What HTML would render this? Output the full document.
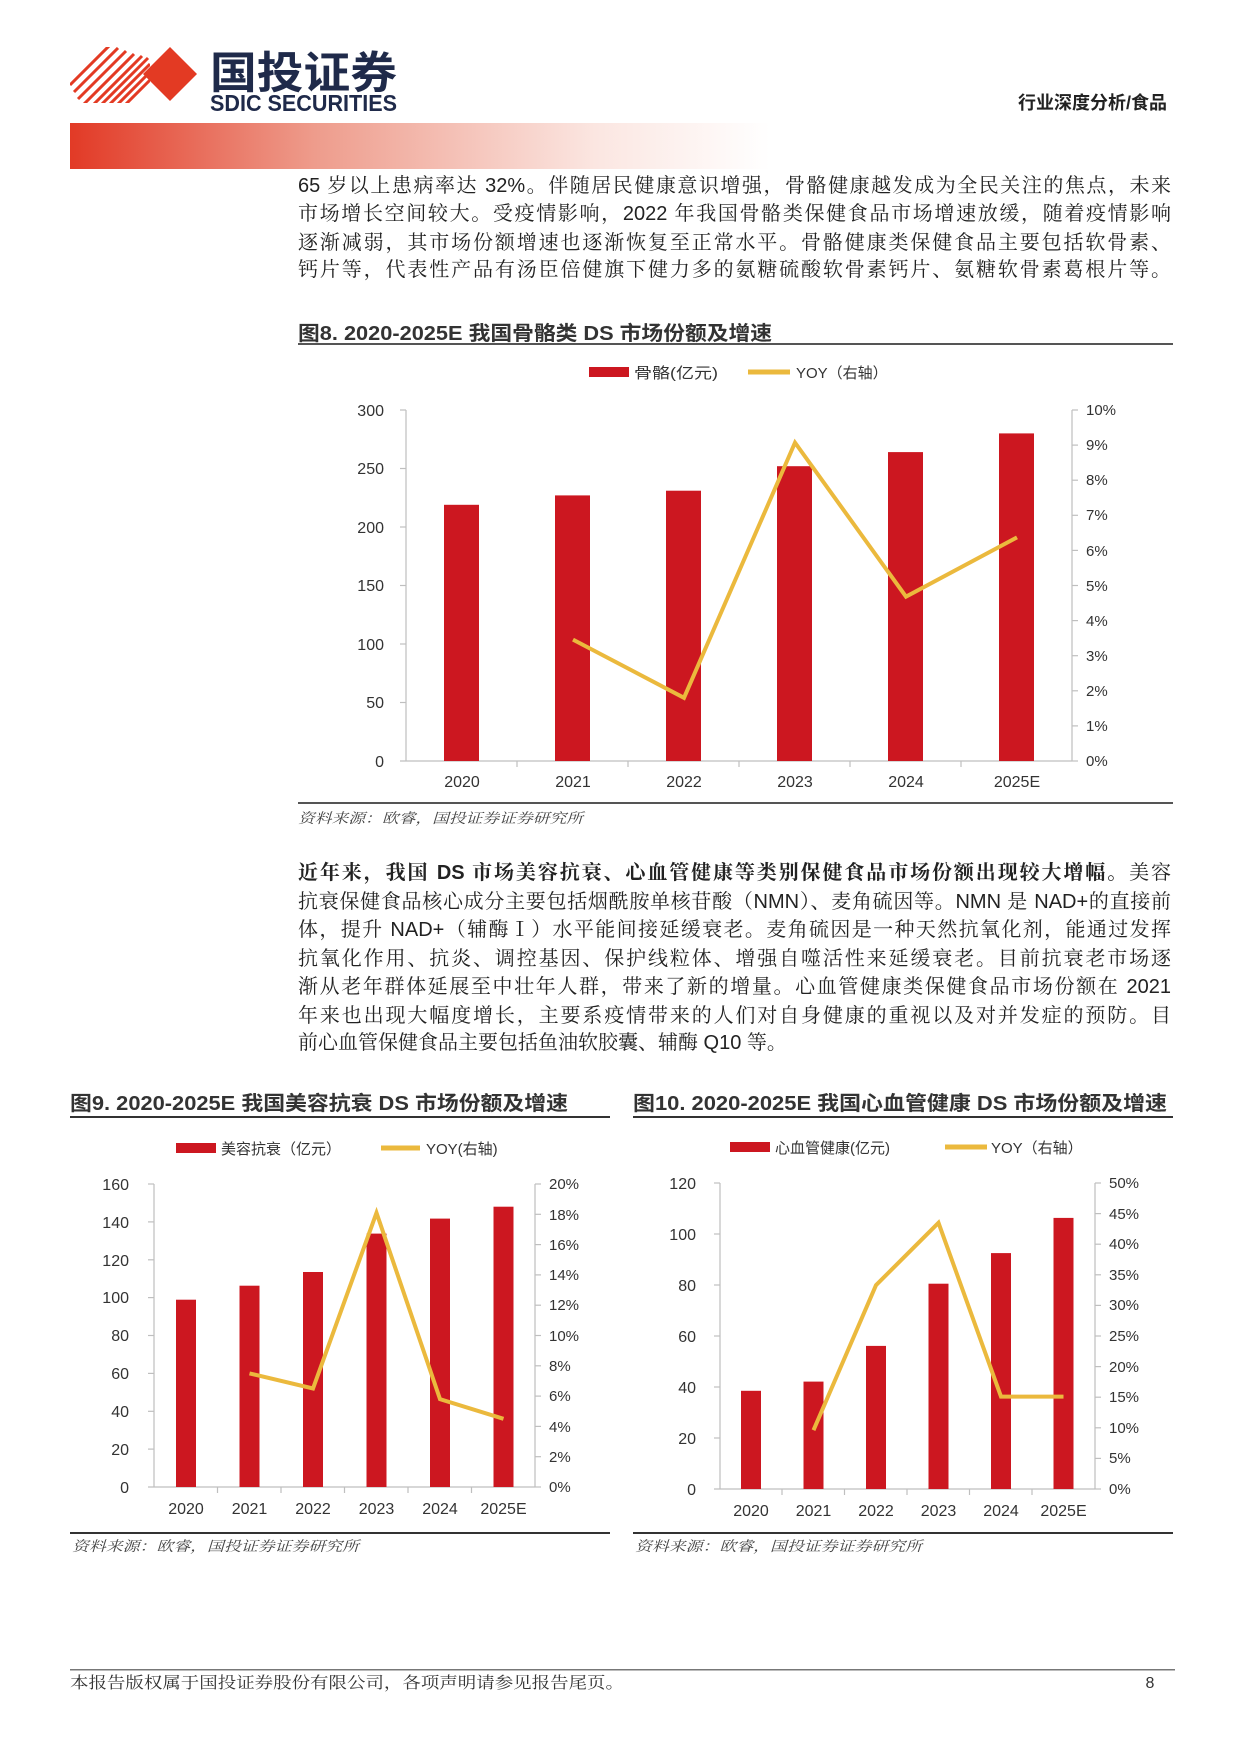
<!DOCTYPE html>
<html><head><meta charset="utf-8">
<style>
html,body{margin:0;padding:0;background:#fff;}
body{width:1241px;height:1754px;position:relative;overflow:hidden;font-family:"Liberation Sans","Noto Sans CJK SC",sans-serif;}
.p{position:absolute;left:298px;width:873px;font-size:20px;color:#222;text-align:justify;text-align-last:justify;line-height:28px;height:28px;white-space:nowrap;font-family:"Liberation Sans","Noto Serif CJK SC",serif;}
.last{text-align-last:left;}
svg{position:absolute;left:0;top:0;}
</style></head><body>
<svg width="1241" height="1754" viewBox="0 0 1241 1754" font-family="Liberation Sans, Noto Sans CJK SC, sans-serif">
<defs>
<linearGradient id="g" x1="0" x2="1" y1="0" y2="0">
<stop offset="0" stop-color="#e23a26"/><stop offset="0.35" stop-color="#ee9c8c"/><stop offset="0.75" stop-color="#fbe6e1"/><stop offset="1" stop-color="#ffffff"/>
</linearGradient>
<clipPath id="lc"><rect x="70" y="47" width="80" height="56"/></clipPath>
</defs>
<g clip-path="url(#lc)" stroke="#e33a23" stroke-width="3">
<line x1="70" y1="85" x2="110" y2="45"/><line x1="74" y1="92" x2="118" y2="48"/><line x1="78" y1="99" x2="126" y2="51"/><line x1="84" y1="104" x2="134" y2="54"/>
<line x1="92" y1="106" x2="142" y2="56"/><line x1="100" y1="106" x2="148" y2="58"/><line x1="108" y1="106" x2="150" y2="64"/><line x1="116" y1="106" x2="150" y2="72"/><line x1="124" y1="106" x2="150" y2="80"/>
</g>
<polygon points="170,47 197,74 170,101 143,74" fill="#e33a23"/>
<text x="210" y="88" font-size="44" font-weight="bold" fill="#1f2a4a" textLength="187" lengthAdjust="spacingAndGlyphs">国投证券</text>
<text x="210" y="111" font-size="23" font-weight="bold" fill="#1f2a4a" textLength="187" lengthAdjust="spacingAndGlyphs">SDIC SECURITIES</text>
<text x="1167" y="109" font-size="18" fill="#222" text-anchor="end" font-weight="bold">行业深度分析/食品</text>
<rect x="70" y="123" width="700" height="46" fill="url(#g)"/>

<text x="298" y="340" font-size="20" font-weight="bold" fill="#333" textLength="474" lengthAdjust="spacingAndGlyphs">图8. 2020-2025E 我国骨骼类 DS 市场份额及增速</text>
<rect x="298" y="343" width="875" height="2" fill="#555"/>
<rect x="589" y="367" width="40" height="10" fill="#cc1720"/>
<text x="634" y="378" font-size="15" fill="#333" textLength="84" lengthAdjust="spacingAndGlyphs">骨骼(亿元)</text>
<line x1="748" y1="372" x2="790" y2="372" stroke="#ebb93d" stroke-width="5"/>
<text x="796" y="378" font-size="15" fill="#333">YOY（右轴）</text>
<g stroke="#bfbfbf" stroke-width="1.2">
<line x1="406" y1="410" x2="406" y2="761"/><line x1="1072" y1="410" x2="1072" y2="761"/><line x1="400" y1="761" x2="1072" y2="761"/>
<line x1="400" y1="410" x2="406" y2="410"/><line x1="400" y1="468.5" x2="406" y2="468.5"/><line x1="400" y1="527" x2="406" y2="527"/><line x1="400" y1="585.5" x2="406" y2="585.5"/><line x1="400" y1="644" x2="406" y2="644"/><line x1="400" y1="702.5" x2="406" y2="702.5"/>
<line x1="1072" y1="410" x2="1078" y2="410"/><line x1="1072" y1="445.1" x2="1078" y2="445.1"/><line x1="1072" y1="480.2" x2="1078" y2="480.2"/><line x1="1072" y1="515.3" x2="1078" y2="515.3"/><line x1="1072" y1="550.4" x2="1078" y2="550.4"/><line x1="1072" y1="585.5" x2="1078" y2="585.5"/><line x1="1072" y1="620.6" x2="1078" y2="620.6"/><line x1="1072" y1="655.7" x2="1078" y2="655.7"/><line x1="1072" y1="690.8" x2="1078" y2="690.8"/><line x1="1072" y1="725.9" x2="1078" y2="725.9"/><line x1="1072" y1="761" x2="1078" y2="761"/>
<line x1="517" y1="761" x2="517" y2="767"/><line x1="628" y1="761" x2="628" y2="767"/><line x1="739" y1="761" x2="739" y2="767"/><line x1="850" y1="761" x2="850" y2="767"/><line x1="961" y1="761" x2="961" y2="767"/>
</g>
<g fill="#cc1720">
<rect x="444" y="504.8" width="35" height="256.2"/><rect x="555" y="495.4" width="35" height="265.6"/><rect x="666" y="490.7" width="35" height="270.3"/><rect x="777" y="466.2" width="35" height="294.8"/><rect x="888" y="452.1" width="35" height="308.9"/><rect x="999" y="433.4" width="35" height="327.6"/>
</g>
<polyline points="573,639.6 684,697.8 795,442.6 906,596.7 1017,537.4" fill="none" stroke="#ebb93d" stroke-width="4"/>
<g font-size="16" fill="#333" text-anchor="end">
<text x="384" y="416">300</text><text x="384" y="474">250</text><text x="384" y="533">200</text><text x="384" y="591">150</text><text x="384" y="650">100</text><text x="384" y="708">50</text><text x="384" y="767">0</text>
</g>
<g font-size="15" fill="#333">
<text x="1086" y="415">10%</text><text x="1086" y="450">9%</text><text x="1086" y="485">8%</text><text x="1086" y="520">7%</text><text x="1086" y="556">6%</text><text x="1086" y="591">5%</text><text x="1086" y="626">4%</text><text x="1086" y="661">3%</text><text x="1086" y="696">2%</text><text x="1086" y="731">1%</text><text x="1086" y="766">0%</text>
</g>
<g font-size="16" fill="#333" text-anchor="middle">
<text x="462" y="787">2020</text><text x="573" y="787">2021</text><text x="684" y="787">2022</text><text x="795" y="787">2023</text><text x="906" y="787">2024</text><text x="1017" y="787">2025E</text>
</g>
<rect x="298" y="802" width="875" height="2" fill="#555"/>
<text x="298" y="823" font-size="14" fill="#444" font-style="italic" font-family="Liberation Serif, Noto Serif CJK SC, serif" textLength="285" lengthAdjust="spacingAndGlyphs">资料来源：欧睿，国投证券证券研究所</text>

<text x="70" y="1110" font-size="20" font-weight="bold" fill="#333" textLength="498" lengthAdjust="spacingAndGlyphs">图9. 2020-2025E 我国美容抗衰 DS 市场份额及增速</text>
<rect x="70" y="1116" width="540" height="2" fill="#333"/>
<rect x="176" y="1143" width="40" height="10" fill="#cc1720"/>
<text x="221" y="1154" font-size="15" fill="#333">美容抗衰（亿元）</text>
<line x1="381" y1="1148" x2="420" y2="1148" stroke="#ebb93d" stroke-width="5"/>
<text x="426" y="1154" font-size="15" fill="#333">YOY(右轴)</text>
<g stroke="#bfbfbf" stroke-width="1.2">
<line x1="154" y1="1184" x2="154" y2="1487"/><line x1="535" y1="1184" x2="535" y2="1487"/><line x1="148" y1="1487" x2="535" y2="1487"/>
<line x1="148" y1="1184" x2="154" y2="1184"/><line x1="148" y1="1221.9" x2="154" y2="1221.9"/><line x1="148" y1="1259.8" x2="154" y2="1259.8"/><line x1="148" y1="1297.6" x2="154" y2="1297.6"/><line x1="148" y1="1335.5" x2="154" y2="1335.5"/><line x1="148" y1="1373.4" x2="154" y2="1373.4"/><line x1="148" y1="1411.3" x2="154" y2="1411.3"/><line x1="148" y1="1449.1" x2="154" y2="1449.1"/>
<line x1="535" y1="1184" x2="541" y2="1184"/><line x1="535" y1="1214.3" x2="541" y2="1214.3"/><line x1="535" y1="1244.6" x2="541" y2="1244.6"/><line x1="535" y1="1274.9" x2="541" y2="1274.9"/><line x1="535" y1="1305.2" x2="541" y2="1305.2"/><line x1="535" y1="1335.5" x2="541" y2="1335.5"/><line x1="535" y1="1365.8" x2="541" y2="1365.8"/><line x1="535" y1="1396.1" x2="541" y2="1396.1"/><line x1="535" y1="1426.4" x2="541" y2="1426.4"/><line x1="535" y1="1456.7" x2="541" y2="1456.7"/><line x1="535" y1="1487" x2="541" y2="1487"/>
<line x1="217.5" y1="1487" x2="217.5" y2="1493"/><line x1="281" y1="1487" x2="281" y2="1493"/><line x1="344.5" y1="1487" x2="344.5" y2="1493"/><line x1="408" y1="1487" x2="408" y2="1493"/><line x1="471.5" y1="1487" x2="471.5" y2="1493"/>
</g>
<g fill="#cc1720">
<rect x="176" y="1299.7" width="20" height="187.3"/><rect x="239.5" y="1285.7" width="20" height="201.3"/><rect x="303" y="1272" width="20" height="215"/><rect x="366.5" y="1233.6" width="20" height="253.4"/><rect x="430" y="1218.6" width="20" height="268.4"/><rect x="493.5" y="1206.7" width="20" height="280.3"/>
</g>
<polyline points="249.5,1373.4 313,1388.5 376.5,1212.8 440,1399.1 503.5,1418.8" fill="none" stroke="#ebb93d" stroke-width="4"/>
<g font-size="16" fill="#333" text-anchor="end">
<text x="129" y="1190">160</text><text x="129" y="1228">140</text><text x="129" y="1266">120</text><text x="129" y="1303">100</text><text x="129" y="1341">80</text><text x="129" y="1379">60</text><text x="129" y="1417">40</text><text x="129" y="1455">20</text><text x="129" y="1493">0</text>
</g>
<g font-size="15" fill="#333">
<text x="549" y="1189">20%</text><text x="549" y="1220">18%</text><text x="549" y="1250">16%</text><text x="549" y="1280">14%</text><text x="549" y="1310">12%</text><text x="549" y="1341">10%</text><text x="549" y="1371">8%</text><text x="549" y="1401">6%</text><text x="549" y="1432">4%</text><text x="549" y="1462">2%</text><text x="549" y="1492">0%</text>
</g>
<g font-size="16" fill="#333" text-anchor="middle">
<text x="186" y="1514">2020</text><text x="249.5" y="1514">2021</text><text x="313" y="1514">2022</text><text x="376.5" y="1514">2023</text><text x="440" y="1514">2024</text><text x="503.5" y="1514">2025E</text>
</g>
<rect x="70" y="1532" width="540" height="2" fill="#333"/>
<text x="72" y="1551" font-size="14" fill="#444" font-style="italic" font-family="Liberation Serif, Noto Serif CJK SC, serif" textLength="287" lengthAdjust="spacingAndGlyphs">资料来源：欧睿，国投证券证券研究所</text>

<text x="633" y="1110" font-size="20" font-weight="bold" fill="#333" textLength="534" lengthAdjust="spacingAndGlyphs">图10. 2020-2025E 我国心血管健康 DS 市场份额及增速</text>
<rect x="633" y="1116" width="540" height="2" fill="#333"/>
<rect x="730" y="1142" width="40" height="10" fill="#cc1720"/>
<text x="775" y="1153" font-size="15" fill="#333">心血管健康(亿元)</text>
<line x1="945" y1="1147" x2="987" y2="1147" stroke="#ebb93d" stroke-width="5"/>
<text x="991" y="1153" font-size="15" fill="#333">YOY（右轴）</text>
<g stroke="#bfbfbf" stroke-width="1.2">
<line x1="720" y1="1183" x2="720" y2="1489"/><line x1="1095" y1="1183" x2="1095" y2="1489"/><line x1="714" y1="1489" x2="1095" y2="1489"/>
<line x1="714" y1="1183" x2="720" y2="1183"/><line x1="714" y1="1234" x2="720" y2="1234"/><line x1="714" y1="1285" x2="720" y2="1285"/><line x1="714" y1="1336" x2="720" y2="1336"/><line x1="714" y1="1387" x2="720" y2="1387"/><line x1="714" y1="1438" x2="720" y2="1438"/>
<line x1="1095" y1="1183" x2="1101" y2="1183"/><line x1="1095" y1="1213.6" x2="1101" y2="1213.6"/><line x1="1095" y1="1244.2" x2="1101" y2="1244.2"/><line x1="1095" y1="1274.8" x2="1101" y2="1274.8"/><line x1="1095" y1="1305.4" x2="1101" y2="1305.4"/><line x1="1095" y1="1336" x2="1101" y2="1336"/><line x1="1095" y1="1366.6" x2="1101" y2="1366.6"/><line x1="1095" y1="1397.2" x2="1101" y2="1397.2"/><line x1="1095" y1="1427.8" x2="1101" y2="1427.8"/><line x1="1095" y1="1458.4" x2="1101" y2="1458.4"/><line x1="1095" y1="1489" x2="1101" y2="1489"/>
<line x1="782" y1="1489" x2="782" y2="1495"/><line x1="844.5" y1="1489" x2="844.5" y2="1495"/><line x1="907" y1="1489" x2="907" y2="1495"/><line x1="969.5" y1="1489" x2="969.5" y2="1495"/><line x1="1032" y1="1489" x2="1032" y2="1495"/>
</g>
<g fill="#cc1720">
<rect x="741" y="1390.8" width="20" height="98.2"/><rect x="803.5" y="1381.6" width="20" height="107.4"/><rect x="866" y="1345.9" width="20" height="143.1"/><rect x="928.5" y="1283.7" width="20" height="205.3"/><rect x="991" y="1253.1" width="20" height="235.9"/><rect x="1053.5" y="1217.9" width="20" height="271.1"/>
</g>
<polyline points="813.5,1430.2 876,1285.2 938.5,1222.8 1001,1396.6 1063.5,1396.6" fill="none" stroke="#ebb93d" stroke-width="4"/>
<g font-size="16" fill="#333" text-anchor="end">
<text x="696" y="1189">120</text><text x="696" y="1240">100</text><text x="696" y="1291">80</text><text x="696" y="1342">60</text><text x="696" y="1393">40</text><text x="696" y="1444">20</text><text x="696" y="1495">0</text>
</g>
<g font-size="15" fill="#333">
<text x="1109" y="1188">50%</text><text x="1109" y="1219">45%</text><text x="1109" y="1249">40%</text><text x="1109" y="1280">35%</text><text x="1109" y="1310">30%</text><text x="1109" y="1341">25%</text><text x="1109" y="1372">20%</text><text x="1109" y="1402">15%</text><text x="1109" y="1433">10%</text><text x="1109" y="1463">5%</text><text x="1109" y="1494">0%</text>
</g>
<g font-size="16" fill="#333" text-anchor="middle">
<text x="751" y="1516">2020</text><text x="813.5" y="1516">2021</text><text x="876" y="1516">2022</text><text x="938.5" y="1516">2023</text><text x="1001" y="1516">2024</text><text x="1063.5" y="1516">2025E</text>
</g>
<rect x="633" y="1532" width="540" height="2" fill="#333"/>
<text x="635" y="1551" font-size="14" fill="#444" font-style="italic" font-family="Liberation Serif, Noto Serif CJK SC, serif" textLength="287" lengthAdjust="spacingAndGlyphs">资料来源：欧睿，国投证券证券研究所</text>

<rect x="70" y="1669" width="1105" height="1.5" fill="#777"/>
<text x="70" y="1688" font-size="16" fill="#333" font-family="Liberation Serif, Noto Serif CJK SC, serif" textLength="554" lengthAdjust="spacingAndGlyphs">本报告版权属于国投证券股份有限公司，各项声明请参见报告尾页。</text>
<text x="1150" y="1688" font-size="16" fill="#333" text-anchor="middle">8</text>
</svg>

<div class="p" style="top:172px">65 岁以上患病率达 32%。伴随居民健康意识增强，骨骼健康越发成为全民关注的焦点，未来</div>
<div class="p" style="top:200px">市场增长空间较大。受疫情影响，2022 年我国骨骼类保健食品市场增速放缓，随着疫情影响</div>
<div class="p" style="top:229px">逐渐减弱，其市场份额增速也逐渐恢复至正常水平。骨骼健康类保健食品主要包括软骨素、</div>
<div class="p" style="top:256px">钙片等，代表性产品有汤臣倍健旗下健力多的氨糖硫酸软骨素钙片、氨糖软骨素葛根片等。</div>

<div class="p" style="top:859px"><b>近年来，我国 DS 市场美容抗衰、心血管健康等类别保健食品市场份额出现较大增幅。</b>美容</div>
<div class="p" style="top:888px">抗衰保健食品核心成分主要包括烟酰胺单核苷酸（NMN）、麦角硫因等。NMN 是 NAD+的直接前</div>
<div class="p" style="top:916px">体，提升 NAD+（辅酶Ⅰ）水平能间接延缓衰老。麦角硫因是一种天然抗氧化剂，能通过发挥</div>
<div class="p" style="top:945px">抗氧化作用、抗炎、调控基因、保护线粒体、增强自噬活性来延缓衰老。目前抗衰老市场逐</div>
<div class="p" style="top:973px">渐从老年群体延展至中壮年人群，带来了新的增量。心血管健康类保健食品市场份额在 2021</div>
<div class="p" style="top:1002px">年来也出现大幅度增长，主要系疫情带来的人们对自身健康的重视以及对并发症的预防。目</div>
<div class="p last" style="top:1029px">前心血管保健食品主要包括鱼油软胶囊、辅酶 Q10 等。</div>
</body></html>
